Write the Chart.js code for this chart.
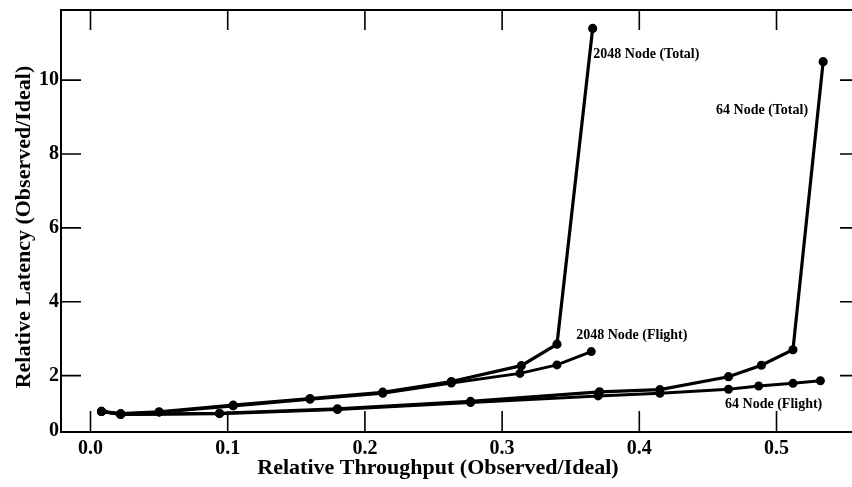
<!DOCTYPE html>
<html>
<head>
<meta charset="utf-8">
<script src="https://cdn.jsdelivr.net/npm/chart.js@4.4.1/dist/chart.umd.min.js"></script>
<style>
  body { margin: 0; background: #fff; }
</style>
</head>
<body>
<canvas id="myChart" width="852" height="487"></canvas>
<script>
// values
var xTicks = [0.0, 0.1, 0.2, 0.3, 0.4, 0.5];
var yTicks = [0.5, 2, 4, 6, 8, 10];
var yTickLabels = ["0", "2", "4", "6", "8", "10"];

var total2048X = [0.008, 0.022, 0.05, 0.104, 0.16, 0.213, 0.263, 0.314, 0.340, 0.366];
var total2048Y = [1.03, 0.97, 1.02, 1.2, 1.38, 1.55, 1.84, 2.27, 2.85, 11.4];

var flight2048X = [0.008, 0.022, 0.05, 0.104, 0.16, 0.213, 0.263, 0.313, 0.340, 0.365];
var flight2048Y = [1.03, 0.96, 1.01, 1.18, 1.36, 1.52, 1.8, 2.06, 2.29, 2.65];

var total64X = [0.008, 0.022, 0.094, 0.18, 0.277, 0.371, 0.415, 0.465, 0.489, 0.512, 0.534];
var total64Y = [1.03, 0.95, 0.98, 1.1, 1.3, 1.56, 1.62, 1.97, 2.28, 2.7, 10.5];

var flight64X = [0.008, 0.022, 0.094, 0.18, 0.277, 0.370, 0.415, 0.465, 0.487, 0.512, 0.532];
var flight64Y = [1.03, 0.95, 0.97, 1.08, 1.27, 1.45, 1.52, 1.63, 1.72, 1.79, 1.86];

var seriesLabels = ["2048 Node (Total)", "2048 Node (Flight)", "64 Node (Total)", "64 Node (Flight)"];
var xTitle = "Relative Throughput (Observed/Ideal)";
var yTitle = "Relative Latency (Observed/Ideal)";

function toPoints(xs, ys) {
  return xs.map(function (x, i) { return { x: x, y: ys[i] }; });
}

function lineSet(label, xs, ys, width) {
  return {
    label: label,
    data: toPoints(xs, ys),
    showLine: true,
    borderColor: "#000",
    backgroundColor: "#000",
    borderWidth: width,
    pointRadius: 3,
    pointHoverRadius: 3,
    tension: 0
  };
}

// where each curve label sits, in data units
var labelSpots = [
  { text: seriesLabels[0], x: 0.3665, y: 10.7, align: "left" },
  { text: seriesLabels[1], x: 0.354, y: 3.1, align: "left" },
  { text: seriesLabels[2], x: 0.523, y: 9.19, align: "right" },
  { text: seriesLabels[3], x: 0.4625, y: 1.23, align: "left" }
];

var serif = "'Liberation Serif', 'DejaVu Serif', serif";

var frameAndLabels = {
  id: "frameAndLabels",
  afterDraw: function (chart) {
    var ctx = chart.ctx;
    var a = chart.chartArea;
    var xs = chart.scales.x;
    var ys = chart.scales.y;
    var edge = chart.width;
    ctx.save();
    ctx.strokeStyle = "#000";
    ctx.lineWidth = 2;
    ctx.beginPath();
    ctx.moveTo(edge, a.top);
    ctx.lineTo(a.left, a.top);
    ctx.lineTo(a.left, a.bottom + 1);
    ctx.lineTo(edge, a.bottom + 1);
    ctx.stroke();

    // inward tick marks on all four sides
    ctx.lineWidth = 1.6;
    ctx.beginPath();
    xTicks.forEach(function (v) {
      var px = xs.getPixelForValue(v);
      ctx.moveTo(px, a.bottom);
      ctx.lineTo(px, a.bottom - 20);
      ctx.moveTo(px, a.top);
      ctx.lineTo(px, a.top + 20);
    });
    yTicks.slice(1).forEach(function (v) {
      var py = ys.getPixelForValue(v);
      ctx.moveTo(a.left, py);
      ctx.lineTo(a.left + 20, py);
      ctx.moveTo(edge, py);
      ctx.lineTo(edge - 12, py);
    });
    ctx.stroke();

    ctx.fillStyle = "#000";
    ctx.font = "bold 14px " + serif;
    ctx.textBaseline = "middle";
    labelSpots.forEach(function (s) {
      ctx.textAlign = s.align;
      ctx.fillText(s.text, xs.getPixelForValue(s.x), ys.getPixelForValue(s.y));
    });

    // axis titles
    ctx.font = "bold 22px " + serif;
    ctx.textAlign = "center";
    ctx.fillText(xTitle, 438, 468);
    ctx.translate(24, 227);
    ctx.rotate(-Math.PI / 2);
    ctx.fillText(yTitle, 0, 0);
    ctx.restore();
  }
};

var ctx = document.getElementById("myChart").getContext("2d");
new Chart(ctx, {
  type: "scatter",
  data: {
    datasets: [
      lineSet(seriesLabels[0], total2048X, total2048Y, 3.2),
      lineSet(seriesLabels[1], flight2048X, flight2048Y, 3),
      lineSet(seriesLabels[2], total64X, total64Y, 3.2),
      lineSet(seriesLabels[3], flight64X, flight64Y, 3)
    ]
  },
  options: {
    responsive: false,
    animation: false,
    layout: { padding: { top: 10, right: 0, left: 0, bottom: 0 } },
    plugins: {
      legend: { display: false },
      tooltip: { enabled: false }
    },
    scales: {
      x: {
        type: "linear",
        min: -0.0215,
        max: 0.5505,
        afterFit: function (scale) {
          scale.height = 56;
          scale.paddingLeft = 0;
          scale.paddingRight = 0;
        },
        afterBuildTicks: function (scale) {
          scale.ticks = xTicks.map(function (v) { return { value: v }; });
        },
        grid: { display: false, drawTicks: false },
        border: { display: false },
        ticks: {
          color: "#000",
          padding: 6,
          font: { family: serif, size: 20, weight: "bold" },
          callback: function (v) { return v.toFixed(1); }
        }
      },
      y: {
        type: "linear",
        min: 0.5,
        max: 11.9,
        afterFit: function (scale) {
          scale.width = 61;
          scale.paddingTop = 0;
          scale.paddingBottom = 0;
        },
        afterBuildTicks: function (scale) {
          scale.ticks = yTicks.map(function (v) { return { value: v }; });
        },
        grid: { display: false, drawTicks: false },
        border: { display: false },
        ticks: {
          color: "#000",
          padding: 2,
          font: { family: serif, size: 20, weight: "bold" },
          callback: function (v) { return yTickLabels[yTicks.indexOf(v)]; }
        }
      }
    }
  },
  plugins: [frameAndLabels]
});
</script>
</body>
</html>
